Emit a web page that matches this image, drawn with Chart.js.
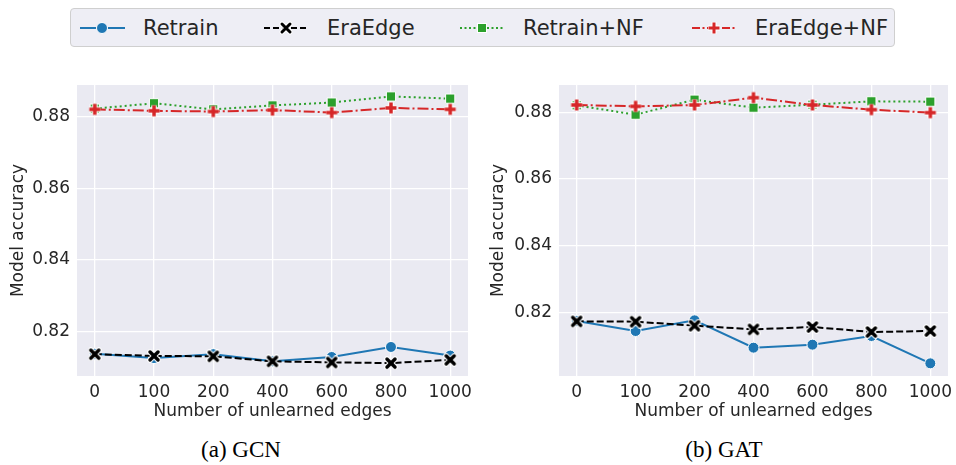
<!DOCTYPE html>
<html>
<head>
<meta charset="utf-8">
<script src="https://cdn.jsdelivr.net/npm/chart.js@4"></script>
<style>
  body { margin: 0; width: 956px; height: 465px; background: #fff; position: relative; overflow: hidden; font-family: 'DejaVu Sans', sans-serif; color: #262626; }
  .box { position: absolute; top: 75px; width: 478px; height: 345px; }
  #legend { position: absolute; left: 70px; top: 8px; width: 825px; height: 39px; background: #eeeef5; border: 1px solid #cfcfcf; border-radius: 4px; box-sizing: border-box; }
  .item { position: absolute; top: 0; height: 37px; display: flex; align-items: center; font-size: 21px; }
  .item svg { margin-right: 18px; }
  .cap { position: absolute; top: 437px; font-family: 'Liberation Serif', serif; font-size: 23px; color: #000; transform: translateX(-50%); white-space: nowrap; }
</style>
</head>
<body>
<div id="legend"></div>
<div class="box" style="left:0"><canvas id="gcn" width="478" height="345"></canvas></div>
<div class="box" style="left:478px"><canvas id="gat" width="478" height="345"></canvas></div>
<div class="cap" style="left:241px">(a) GCN</div>
<div class="cap" style="left:724px">(b) GAT</div>
<script>
// x categories (number of unlearned edges)
const categories = ['0', '100', '200', '400', '600', '800', '1000'];
const yTicks = [0.82, 0.84, 0.86, 0.88];
const seriesNames = ['Retrain', 'EraEdge', 'Retrain+NF', 'EraEdge+NF'];

// (a) GCN
const gcnRetrain   = [0.8138, 0.8126, 0.8137, 0.8117, 0.8129, 0.8157, 0.8133];
const gcnEraEdge   = [0.8137, 0.8132, 0.8131, 0.8117, 0.8114, 0.8112, 0.8121];
const gcnRetrainNF = [0.8822, 0.8837, 0.8820, 0.8831, 0.8839, 0.8856, 0.8850];
const gcnEraEdgeNF = [0.8820, 0.8816, 0.8814, 0.8818, 0.8811, 0.8824, 0.8820];

// (b) GAT
const gatRetrain   = [0.8174, 0.8144, 0.8176, 0.8094, 0.8103, 0.8129, 0.8047];
const gatEraEdge   = [0.8173, 0.8172, 0.8160, 0.8149, 0.8156, 0.8141, 0.8144];
const gatRetrainNF = [0.8821, 0.8793, 0.8838, 0.8814, 0.8823, 0.8833, 0.8832];
const gatEraEdgeNF = [0.8822, 0.8818, 0.8822, 0.8844, 0.8822, 0.8808, 0.8799];

const BLUE = '#1f77b4', GREEN = '#2ca02c', RED = '#d62728', BLACK = '#000000';
const TEXT = '#262626';
const FONT = 'DejaVu Sans';

// filled marker shapes with white edge, like seaborn 'X' and 'P'
function markerCanvas(kind, color) {
  const c = document.createElement('canvas');
  c.width = 14; c.height = 14;
  const g = c.getContext('2d');
  const segs = kind === 'x'
    ? [[3, 3, 11, 11], [11, 3, 3, 11]]
    : [[7, 1.5, 7, 12.5], [1.5, 7, 12.5, 7]];
  g.lineCap = kind === 'x' ? 'round' : 'butt';
  [['#ffffff', 5.5], [color, 3.5]].forEach(([col, w]) => {
    g.strokeStyle = col; g.lineWidth = w;
    segs.forEach(s => { g.beginPath(); g.moveTo(s[0], s[1]); g.lineTo(s[2], s[3]); g.stroke(); });
  });
  return c;
}
const xMarker = markerCanvas('x', BLACK);
const pMarker = markerCanvas('p', RED);

function ds(label, values, color, dash, style, radius, order) {
  return {
    label: label,
    data: values.map((v, i) => ({ x: i, y: v })),
    borderColor: color,
    backgroundColor: color,
    borderWidth: 2,
    borderDash: dash,
    pointStyle: style,
    pointRadius: radius,
    pointBorderColor: '#ffffff',
    pointBorderWidth: 1,
    pointBackgroundColor: color,
    tension: 0,
    order: order
  };
}

function makeChart(id, rows, yMin, yMax, yWidth, padRight, titlePad) {
  new Chart(document.getElementById(id), {
    type: 'line',
    data: {
      datasets: [
        ds(seriesNames[0], rows[0], BLUE, [], 'circle', 5.5, 4),
        ds(seriesNames[1], rows[1], BLACK, [7, 3], xMarker, 6, 3),
        ds(seriesNames[2], rows[2], GREEN, [2, 3], 'rect', 6.5, 2),
        ds(seriesNames[3], rows[3], RED, [11, 3, 2, 3], pMarker, 6, 1)
      ]
    },
    options: {
      responsive: false,
      animation: false,
      layout: { padding: { top: 10, right: padRight, left: 0, bottom: 0 } },
      plugins: { legend: { display: false }, tooltip: { enabled: false } },
      scales: {
        x: {
          type: 'linear',
          min: -0.3,
          max: categories.length - 1 + 0.3,
          afterBuildTicks: s => { s.ticks = categories.map((c, i) => ({ value: i })); },
          afterFit: s => { s.height = 44; s.paddingLeft = 0; s.paddingRight = 0; },
          ticks: { callback: v => categories[v], color: TEXT, font: { family: FONT, size: 17 }, padding: 6, maxRotation: 0 },
          grid: { color: '#ffffff', lineWidth: 1.3, drawTicks: false },
          border: { display: false },
          title: { display: true, text: 'Number of unlearned edges', color: TEXT, font: { family: FONT, size: 17, lineHeight: 1 }, padding: 0 }
        },
        y: {
          min: yMin,
          max: yMax,
          afterBuildTicks: s => { s.ticks = yTicks.map(v => ({ value: v })); },
          afterFit: s => { s.width = yWidth; s.paddingTop = 0; s.paddingBottom = 0; },
          ticks: { callback: v => v.toFixed(2), color: TEXT, font: { family: FONT, size: 17 }, padding: 7 },
          grid: { color: '#ffffff', lineWidth: 1.3, drawTicks: false },
          border: { display: false },
          title: { display: true, text: 'Model accuracy', color: TEXT, font: { family: FONT, size: 17 }, padding: { top: titlePad, bottom: 0 } }
        }
      }
    },
    plugins: [{
      id: 'plotBg',
      beforeDraw(chart) {
        const a = chart.chartArea, g = chart.ctx;
        g.save(); g.fillStyle = '#eaeaf2';
        g.fillRect(a.left, a.top, a.right - a.left, a.bottom - a.top);
        g.restore();
      }
    }]
  });
}

makeChart('gcn', [gcnRetrain, gcnEraEdge, gcnRetrainNF, gcnEraEdgeNF], 0.8076, 0.8888, 77, 10, 8);
makeChart('gat', [gatRetrain, gatEraEdge, gatRetrainNF, gatEraEdgeNF], 0.8009, 0.8882, 81, 8, 10);

// shared legend across both panels
const legendItems = [
  { x: 9, color: BLUE, dash: '', mark: 'circle' },
  { x: 193, color: BLACK, dash: '6 3', mark: 'x' },
  { x: 389, color: GREEN, dash: '2 2.5', mark: 'square' },
  { x: 621, color: RED, dash: '8 2.5 2 2.5', mark: 'plus' }
];
const legend = document.getElementById('legend');
legendItems.forEach((it, i) => {
  let m = '';
  if (it.mark === 'circle') m = `<circle cx="22" cy="10" r="5.5" fill="${it.color}" stroke="#fff" stroke-width="1"/>`;
  if (it.mark === 'square') m = `<rect x="17.5" y="5.5" width="9" height="9" fill="${it.color}" stroke="#fff" stroke-width="1"/>`;
  if (it.mark === 'x') m = `<path d="M18 6L26 14M26 6L18 14" stroke="#fff" stroke-width="5" stroke-linecap="round"/><path d="M18 6L26 14M26 6L18 14" stroke="${it.color}" stroke-width="3" stroke-linecap="round"/>`;
  if (it.mark === 'plus') m = `<path d="M22 4V16M16 10H28" stroke="#fff" stroke-width="5"/><path d="M22 4.5V15.5M16.5 10H27.5" stroke="${it.color}" stroke-width="3"/>`;
  const el = document.createElement('div');
  el.className = 'item';
  el.style.left = it.x + 'px';
  el.innerHTML = `<svg width="45" height="20"><line x1="0" y1="10" x2="45" y2="10" stroke="${it.color}" stroke-width="2" stroke-dasharray="${it.dash}"/>${m}</svg><span>${seriesNames[i]}</span>`;
  legend.appendChild(el);
});
</script>
</body>
</html>
